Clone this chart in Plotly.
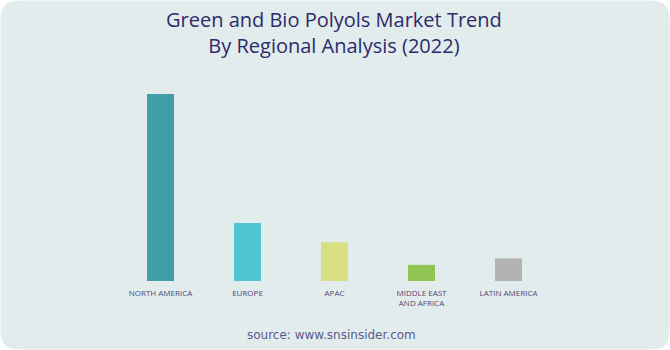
import plotly.graph_objects as go

categories = ["NORTH AMERICA", "EUROPE", "APAC", "MIDDLE EAST<br>AND AFRICA", "LATIN AMERICA"]
values = [58, 18, 12, 5, 7]
colors = ["#3f9ea6", "#4ec5d3", "#d9df82", "#92c654", "#b3b3b3"]
title_text = "Green and Bio Polyols Market Trend<br>By Regional Analysis (2022)"
source_text = "source: www.snsinsider.com"

W, H = 670, 350
L, R, T, B = 117, 118, 60, 69
pw, ph = W - L - R, H - T - B

def px_x(x):
    return (x - L) / pw

def px_y(y):
    return 1 - (y - T) / ph

def rounded_rect(x0, y0, x1, y1, r):
    return (f"M {px_x(x0 + r)} {px_y(y0)} L {px_x(x1 - r)} {px_y(y0)} "
            f"Q {px_x(x1)} {px_y(y0)} {px_x(x1)} {px_y(y0 + r)} "
            f"L {px_x(x1)} {px_y(y1 - r)} "
            f"Q {px_x(x1)} {px_y(y1)} {px_x(x1 - r)} {px_y(y1)} "
            f"L {px_x(x0 + r)} {px_y(y1)} "
            f"Q {px_x(x0)} {px_y(y1)} {px_x(x0)} {px_y(y1 - r)} "
            f"L {px_x(x0)} {px_y(y0 + r)} "
            f"Q {px_x(x0)} {px_y(y0)} {px_x(x0 + r)} {px_y(y0)} Z")

fig = go.Figure(go.Bar(
    x=categories, y=values, marker_color=colors, width=0.31,
    marker_line_width=0,
))

fig.update_layout(
    width=W, height=H,
    margin=dict(l=L, r=R, t=T, b=B),
    paper_bgcolor="white",
    plot_bgcolor="rgba(0,0,0,0)",
    showlegend=False,
    xaxis=dict(showgrid=False, showline=False, zeroline=False, ticks="",
               ticklabelstandoff=6,
               tickfont=dict(family="Open Sans", size=8, color="#4a4a7a")),
    yaxis=dict(visible=False, range=[0, 68.5]),
    shapes=[dict(type="path", xref="paper", yref="paper", layer="below",
                 path=rounded_rect(0.5, 0.5, W - 0.5, H - 0.5, 18),
                 fillcolor="#e3ecec", line=dict(width=0))],
    annotations=[
        dict(text=title_text, xref="paper", yref="paper",
             x=px_x(334), y=px_y(32), xanchor="center", yanchor="middle",
             showarrow=False, align="center",
             font=dict(family="Open Sans", size=20, color="#2b2b6b")),
        dict(text=source_text, xref="paper", yref="paper",
             x=px_x(331), y=px_y(335), xanchor="center", yanchor="middle",
             showarrow=False,
             font=dict(family="DejaVu Sans", size=12, color="#5a5a8c")),
    ],
)

fig.write_html("out.html")
